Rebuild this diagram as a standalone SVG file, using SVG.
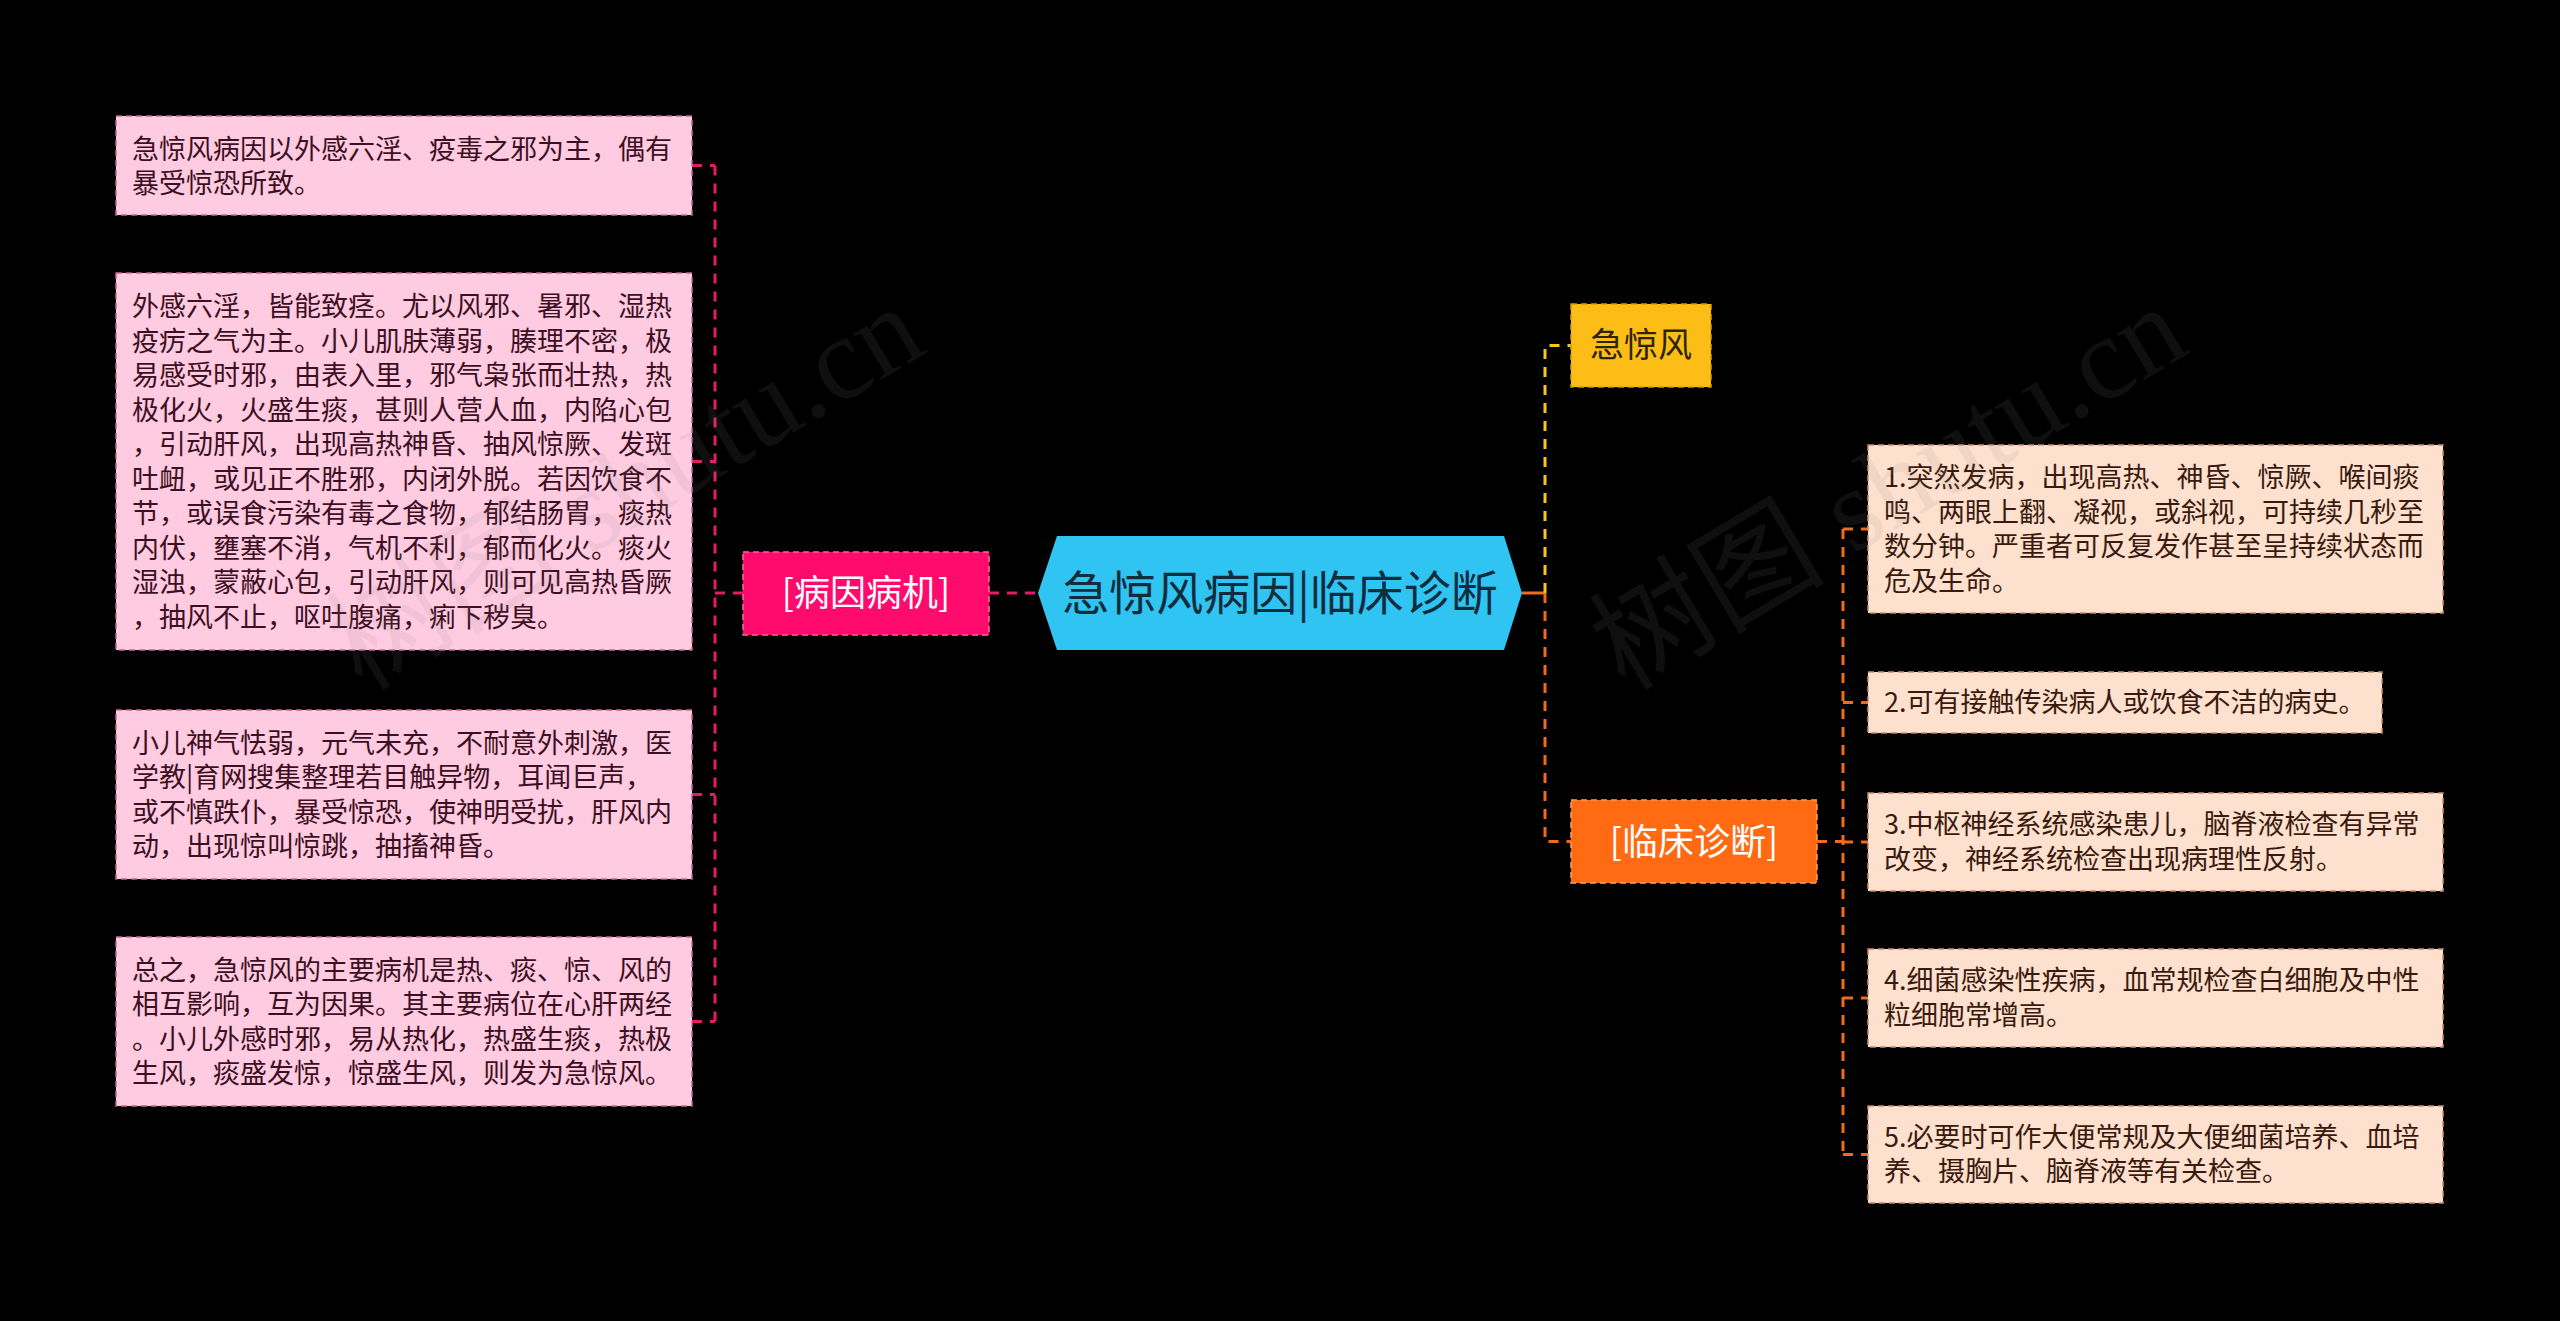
<svg xmlns="http://www.w3.org/2000/svg" width="2560" height="1321" viewBox="0 0 2560 1321">
<style>
.bg{fill:#000}
.lbox{fill:#ffcbe0;stroke:#c9668f;stroke-width:1.5;stroke-dasharray:6 4}
.rbox{fill:#fde0cd;stroke:#c98d6c;stroke-width:1.5;stroke-dasharray:6 4}
.lt{font-family:"Noto Sans CJK SC","Noto Sans",sans-serif;font-size:27px;fill:#3d0f22}
.rt{font-family:"Noto Sans CJK SC","Noto Sans",sans-serif;font-size:27px;fill:#3a1a0e}
.cpink{stroke:#e8196a;stroke-width:3;fill:none;stroke-dasharray:10 8}
.cyel{stroke:#f7c51c;stroke-width:3;fill:none;stroke-dasharray:10 8}
.corg{stroke:#f26a1b;stroke-width:3;fill:none;stroke-dasharray:10 8}
.wm{font-family:"Liberation Serif","Noto Sans CJK SC",serif;font-size:118px;fill:#888;fill-opacity:0.11}
</style>
<rect class="bg" x="0" y="0" width="2560" height="1321"/>

<g id="connectors">
  <path class="cpink" d="M989 593 H1038"/>
  <path class="cpink" d="M743 593 H715"/>
  <path class="cpink" d="M715 165.5 V1021.5"/>
  <path class="cpink" d="M692 165.5 H715"/>
  <path class="cpink" d="M692 461.5 H715"/>
  <path class="cpink" d="M692 794.5 H715"/>
  <path class="cpink" d="M692 1021.5 H715"/>
  <path d="M1522 593 H1545" stroke="#f26a1b" stroke-width="3" fill="none"/>
  <path class="cyel" d="M1545 593 V345.5 H1571"/>
  <path class="corg" d="M1545 593 V841.5 H1571"/>
  <path class="corg" d="M1817 841.5 H1843"/>
  <path class="corg" d="M1843 529 V1154.5"/>
  <path class="corg" d="M1843 529 H1868"/>
  <path class="corg" d="M1843 702.5 H1868"/>
  <path class="corg" d="M1843 842 H1868"/>
  <path class="corg" d="M1843 998 H1868"/>
  <path class="corg" d="M1843 1154.5 H1868"/>
</g>

<g id="root">
  <polygon points="1038,593 1057,536 1504,536 1522,593 1504,650 1057,650" fill="#30c4f3"/>
  <text x="1280" y="610" text-anchor="middle" font-family="'Noto Sans CJK SC','Noto Sans',sans-serif" font-size="47" fill="#0f2d3c">急惊风病因|临床诊断</text>
</g>

<g id="n-bingyin">
  <rect x="743" y="552" width="246" height="83" fill="#ff0a6d" stroke="#ff6aa3" stroke-width="1.5" stroke-dasharray="6 4"/>
  <text x="866" y="606" text-anchor="middle" font-family="'Noto Sans CJK SC','Noto Sans',sans-serif" font-size="36" fill="#ffffff">[病因病机]</text>
</g>

<g id="n-jijingfeng">
  <rect x="1571" y="304" width="140" height="83" fill="#fcbd16" stroke="#d89a00" stroke-width="1.5" stroke-dasharray="6 4"/>
  <text x="1641" y="357" text-anchor="middle" font-family="'Noto Sans CJK SC','Noto Sans',sans-serif" font-size="34" fill="#2e2400">急惊风</text>
</g>

<g id="n-linchuang">
  <rect x="1571" y="800" width="246" height="83" fill="#ff6a12" stroke="#ffa060" stroke-width="1.5" stroke-dasharray="6 4"/>
  <text x="1694" y="855" text-anchor="middle" font-family="'Noto Sans CJK SC','Noto Sans',sans-serif" font-size="36" fill="#ffffff">[临床诊断]</text>
</g>

<g id="l1">
  <rect class="lbox" x="116" y="116" width="576" height="99"/>
  <text class="lt"><tspan x="132" y="158.5">急惊风病因以外感六淫、疫毒之邪为主，偶有</tspan><tspan x="132" y="193">暴受惊恐所致。</tspan></text>
</g>

<g id="l2">
  <rect class="lbox" x="116" y="273" width="576" height="377"/>
  <text class="lt"><tspan x="132" y="316.25">外感六淫，皆能致痉。尤以风邪、暑邪、湿热</tspan><tspan x="132" y="350.75">疫疠之气为主。小儿肌肤薄弱，腠理不密，极</tspan><tspan x="132" y="385.25">易感受时邪，由表入里，邪气枭张而壮热，热</tspan><tspan x="132" y="419.75">极化火，火盛生痰，甚则人营人血，内陷心包</tspan><tspan x="132" y="454.25">，引动肝风，出现高热神昏、抽风惊厥、发斑</tspan><tspan x="132" y="488.75">吐衄，或见正不胜邪，内闭外脱。若因饮食不</tspan><tspan x="132" y="523.25">节，或误食污染有毒之食物，郁结肠胃，痰热</tspan><tspan x="132" y="557.75">内伏，壅塞不消，气机不利，郁而化火。痰火</tspan><tspan x="132" y="592.25">湿浊，蒙蔽心包，引动肝风，则可见高热昏厥</tspan><tspan x="132" y="626.75">，抽风不止，呕吐腹痛，痢下秽臭。</tspan></text>
</g>

<g id="l3">
  <rect class="lbox" x="116" y="710" width="576" height="169"/>
  <text class="lt"><tspan x="132" y="752.75">小儿神气怯弱，元气未充，不耐意外刺激，医</tspan><tspan x="132" y="787.25">学教|育网搜集整理若目触异物，耳闻巨声，</tspan><tspan x="132" y="821.75">或不慎跌仆，暴受惊恐，使神明受扰，肝风内</tspan><tspan x="132" y="856.25">动，出现惊叫惊跳，抽搐神昏。</tspan></text>
</g>

<g id="l4">
  <rect class="lbox" x="116" y="937" width="576" height="169"/>
  <text class="lt"><tspan x="132" y="979.75">总之，急惊风的主要病机是热、痰、惊、风的</tspan><tspan x="132" y="1014.25">相互影响，互为因果。其主要病位在心肝两经</tspan><tspan x="132" y="1048.75">。小儿外感时邪，易从热化，热盛生痰，热极</tspan><tspan x="132" y="1083.25">生风，痰盛发惊，惊盛生风，则发为急惊风。</tspan></text>
</g>

<g id="r1">
  <rect class="rbox" x="1868" y="445" width="575" height="168"/>
  <text class="rt"><tspan x="1884" y="487.25">1.突然发病，出现高热、神昏、惊厥、喉间痰</tspan><tspan x="1884" y="521.75">鸣、两眼上翻、凝视，或斜视，可持续几秒至</tspan><tspan x="1884" y="556.25">数分钟。严重者可反复发作甚至呈持续状态而</tspan><tspan x="1884" y="590.75">危及生命。</tspan></text>
</g>

<g id="r2">
  <rect class="rbox" x="1868" y="672" width="514" height="61"/>
  <text class="rt" x="1884" y="712">2.可有接触传染病人或饮食不洁的病史。</text>
</g>

<g id="r3">
  <rect class="rbox" x="1868" y="793" width="575" height="98"/>
  <text class="rt"><tspan x="1884" y="834.25">3.中枢神经系统感染患儿，脑脊液检查有异常</tspan><tspan x="1884" y="868.75">改变，神经系统检查出现病理性反射。</tspan></text>
</g>

<g id="r4">
  <rect class="rbox" x="1868" y="949" width="575" height="98"/>
  <text class="rt"><tspan x="1884" y="990.25">4.细菌感染性疾病，血常规检查白细胞及中性</tspan><tspan x="1884" y="1024.75">粒细胞常增高。</tspan></text>
</g>

<g id="r5">
  <rect class="rbox" x="1868" y="1106" width="575" height="97"/>
  <text class="rt"><tspan x="1884" y="1146.75">5.必要时可作大便常规及大便细菌培养、血培</tspan><tspan x="1884" y="1181.25">养、摄胸片、脑脊液等有关检查。</tspan></text>
</g>

<g id="watermark">
  <text class="wm" x="362" y="692" transform="rotate(-31 362 692)">树图 shutu.cn</text>
  <text class="wm" x="1625" y="692" transform="rotate(-31 1625 692)">树图 shutu.cn</text>
</g>
</svg>
